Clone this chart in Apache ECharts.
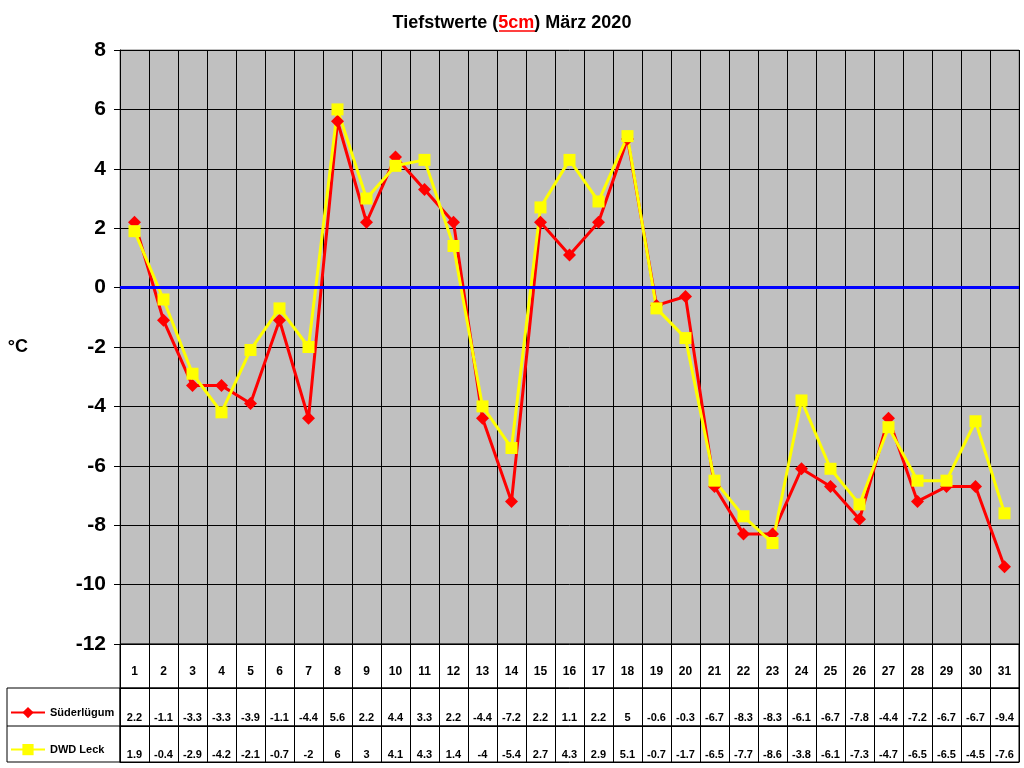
<!DOCTYPE html>
<html><head><meta charset="utf-8">
<script src="https://cdn.jsdelivr.net/npm/echarts@6/dist/echarts.min.js"></script>
<style>html,body{margin:0;padding:0;background:#fff}#c{width:1024px;height:768px}</style>
</head><body><div id="c"></div>
<script>
const days = ['1','2','3','4','5','6','7','8','9','10','11','12','13','14','15','16','17','18','19','20','21','22','23','24','25','26','27','28','29','30','31'];
const suederluegum = [2.2,-1.1,-3.3,-3.3,-3.9,-1.1,-4.4,5.6,2.2,4.4,3.3,2.2,-4.4,-7.2,2.2,1.1,2.2,5,-0.6,-0.3,-6.7,-8.3,-8.3,-6.1,-6.7,-7.8,-4.4,-7.2,-6.7,-6.7,-9.4];
const dwdLeck = [1.9,-0.4,-2.9,-4.2,-2.1,-0.7,-2,6,3,4.1,4.3,1.4,-4,-5.4,2.7,4.3,2.9,5.1,-0.7,-1.7,-6.5,-7.7,-8.6,-3.8,-6.1,-7.3,-4.7,-6.5,-6.5,-4.5,-7.6];
const yTicks = {min:-12, max:8, interval:2};
const seriesNames = ['Süderlügum','DWD Leck'];

const F = 'Arial, "Liberation Sans", sans-serif';
const chart = echarts.init(document.getElementById('c'));

function tableAxis(gi, data, margin, size){
  return {type:'category', gridIndex:gi, data:data, position:'bottom',
    axisLine:{show:true, lineStyle:{color:'#000', width:1}},
    axisTick:{show:false},
    axisLabel:{inside:true, interval:0, margin:margin, color:'#000', fontFamily:F, fontWeight:'bold', fontSize:size},
    splitLine:{show:true, interval:0, lineStyle:{color:'#000', width:1}}};
}
function hiddenY(gi){ return {type:'value', gridIndex:gi, show:false}; }
function legendAt(name, top){
  return {data:[name], left:10, top:top, padding:0, itemWidth:34, itemHeight:14, orient:'vertical',
    textStyle:{fontFamily:F, fontWeight:'bold', fontSize:11, color:'#000'}};
}

chart.setOption({
  animation:false,
  backgroundColor:'#fff',
  title:{left:'center', top:9, text:'{a|Tiefstwerte (}{b|5cm}{a|) März 2020}',
    textStyle:{rich:{a:{fontFamily:F, fontWeight:'bold', fontSize:18, color:'#000'},
                     b:{fontFamily:F, fontWeight:'bold', fontSize:18, color:'#ff0000'}}}},
  legend:[legendAt(seriesNames[0], 707), legendAt(seriesNames[1], 744)],
  grid:[
    {left:120, right:5, top:50, height:594, show:true, backgroundColor:'#c0c0c0', borderColor:'#808080', borderWidth:1},
    {left:120, right:5, top:644, height:44, show:true, borderColor:'#000', borderWidth:1},
    {left:120, right:5, top:688, height:38, show:true, borderColor:'#000', borderWidth:1},
    {left:120, right:5, top:726, height:36, show:true, borderColor:'#000', borderWidth:1}
  ],
  xAxis:[
    {type:'category', gridIndex:0, data:days, axisLine:{show:false}, axisTick:{show:false}, axisLabel:{show:false},
     splitLine:{show:true, interval:0, lineStyle:{color:'#000', width:1}}},
    tableAxis(1, days, 10, 12),
    tableAxis(2, suederluegum.map(String), 3, 11),
    tableAxis(3, dwdLeck.map(String), 2, 11)
  ],
  yAxis:[
    {type:'value', gridIndex:0, min:yTicks.min, max:yTicks.max, interval:yTicks.interval,
     name:'°C', nameLocation:'middle', nameRotate:0, nameGap:92,
     nameTextStyle:{fontFamily:F, fontWeight:'bold', fontSize:18, color:'#000'},
     axisLine:{show:true, lineStyle:{color:'#000', width:1}},
     axisTick:{show:true, length:6, lineStyle:{color:'#000'}},
     axisLabel:{margin:14, color:'#000', fontFamily:F, fontWeight:'bold', fontSize:21},
     splitLine:{show:true, lineStyle:{color:'#000', width:1}}},
    hiddenY(1), hiddenY(2), hiddenY(3)
  ],
  series:[
    {name:seriesNames[0], type:'line', xAxisIndex:0, yAxisIndex:0, data:suederluegum,
     symbol:'diamond', symbolSize:13, color:'#ff0000',
     lineStyle:{color:'#ff0000', width:3}, itemStyle:{color:'#ff0000'},
     markLine:{silent:true, symbol:'none', label:{show:false},
       lineStyle:{color:'#0000ff', width:3, type:'solid'}, data:[{yAxis:0}]}},
    {name:seriesNames[1], type:'line', xAxisIndex:0, yAxisIndex:0, data:dwdLeck,
     symbol:'rect', symbolSize:12, color:'#ffff00',
     lineStyle:{color:'#ffff00', width:3}, itemStyle:{color:'#ffff00'}}
  ],
  graphic:[
    {type:'rect', shape:{x:7, y:688, width:113, height:74}, style:{fill:'none', stroke:'#000', lineWidth:1}, z:10},
    {type:'line', shape:{x1:7, y1:726, x2:120, y2:726}, style:{stroke:'#000', lineWidth:1}, z:10},
    {type:'line', shape:{x1:499, y1:31, x2:535, y2:31}, style:{stroke:'#ff0000', lineWidth:1.5}, z:10}
  ]
});
</script></body></html>
